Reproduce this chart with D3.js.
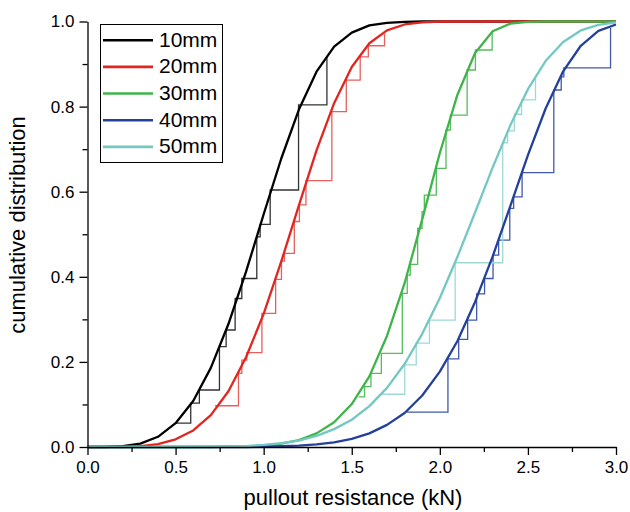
<!DOCTYPE html>
<html lang="en">
    <head>
        <meta charset="utf-8">
        <title>Cumulative distribution</title>
        <script type="text/javascript" src="https://d3js.org/d3.v7.min.js"></script>
        <style type="text/css">
            body { margin: 0; background: #fff; }
            svg text { font-family: "Liberation Sans", Arial, sans-serif; }
        </style>
    </head>
    <body>
        <script type="text/javascript">
            // fitted curves, sampled every 0.1 kN
            var xs = [0, 0.1, 0.2, 0.3, 0.4, 0.5, 0.6, 0.7, 0.8, 0.9, 1.0,
                      1.1, 1.2, 1.3, 1.4, 1.5, 1.6, 1.7, 1.8, 1.9, 2.0,
                      2.1, 2.2, 2.3, 2.4, 2.5, 2.6, 2.7, 2.8, 2.9, 3.0];
            var c10 = [0, 0, 0.002, 0.008, 0.024, 0.056, 0.108, 0.186, 0.289, 0.412, 0.547,
                       0.678, 0.793, 0.882, 0.941, 0.974, 0.991, 0.997, 0.999, 1, 1,
                       1, 1, 1, 1, 1, 1, 1, 1, 1, 1];
            var c20 = [0, 0, 0, 0.002, 0.007, 0.018, 0.039, 0.075, 0.131, 0.211, 0.313,
                       0.436, 0.568, 0.697, 0.808, 0.893, 0.949, 0.979, 0.993, 0.998, 1,
                       1, 1, 1, 1, 1, 1, 1, 1, 1, 1];
            var c30 = [0, 0, 0, 0, 0, 0, 0, 0, 0.001, 0.001, 0.004,
                       0.008, 0.016, 0.032, 0.058, 0.101, 0.166, 0.261, 0.385, 0.535, 0.691,
                       0.828, 0.926, 0.977, 0.995, 0.999, 1, 1, 1, 1, 1];
            var c40 = [0, 0, 0, 0, 0, 0, 0, 0, 0, 0, 0.001,
                       0.002, 0.003, 0.006, 0.011, 0.019, 0.032, 0.052, 0.080, 0.121, 0.177,
                       0.249, 0.341, 0.448, 0.566, 0.686, 0.795, 0.883, 0.943, 0.978, 0.993];
            var c50 = [0, 0, 0, 0, 0, 0, 0, 0.001, 0.001, 0.002, 0.005,
                       0.009, 0.015, 0.026, 0.042, 0.064, 0.096, 0.139, 0.195, 0.266, 0.350,
                       0.447, 0.551, 0.657, 0.756, 0.841, 0.907, 0.952, 0.979, 0.992, 0.998];

            // empirical steps (test results)
            var sx10 = [0.501, 0.586, 0.635, 0.749, 0.787, 0.838, 0.876, 0.961, 0.980, 1.037, 1.198, 1.359];
            var sf10 = [0.056, 0.103, 0.134, 0.236, 0.275, 0.349, 0.396, 0.494, 0.523, 0.604, 0.804, 0.917];
            var sx20 = [0.724, 0.857, 0.876, 0.904, 0.990, 1.068, 1.101, 1.118, 1.174, 1.203, 1.240, 1.387, 1.469, 1.548, 1.594, 1.686];
            var sf20 = [0.097, 0.173, 0.204, 0.222, 0.314, 0.394, 0.437, 0.455, 0.530, 0.569, 0.626, 0.788, 0.862, 0.917, 0.943, 0.972];
            var sx30 = [1.539, 1.573, 1.609, 1.668, 1.787, 1.815, 1.832, 1.874, 1.899, 1.912, 1.980, 2.035, 2.060, 2.155, 2.202, 2.297];
            var sf30 = [0.118, 0.142, 0.173, 0.220, 0.361, 0.404, 0.429, 0.514, 0.553, 0.592, 0.655, 0.745, 0.780, 0.886, 0.933, 0.976];
            var sx40 = [1.813, 2.046, 2.107, 2.158, 2.209, 2.254, 2.302, 2.334, 2.397, 2.419, 2.467, 2.647, 2.689, 2.704, 2.969];
            var sf40 = [0.082, 0.207, 0.253, 0.298, 0.360, 0.396, 0.451, 0.486, 0.561, 0.588, 0.645, 0.839, 0.870, 0.891, 0.985];
            var sx50 = [1.672, 1.801, 1.866, 1.941, 2.087, 2.357, 2.385, 2.423, 2.464, 2.543];
            var sf50 = [0.124, 0.193, 0.244, 0.298, 0.433, 0.715, 0.743, 0.782, 0.816, 0.871];

            var names = ["10mm", "20mm", "30mm", "40mm", "50mm"];
            var colors = ["#000000", "#e2261f", "#3fb44a", "#24409a", "#73c8c2"];
            var stepColors = ["#333333", "#e8605c", "#55bd5e", "#4259a8", "#9ed9d4"];
            var yMajor = [0, 0.2, 0.4, 0.6, 0.8, 1.0];
            var yMinor = [0.1, 0.3, 0.5, 0.7, 0.9];
            var xMajor = [0, 0.5, 1.0, 1.5, 2.0, 2.5, 3.0];
            var xMinor = [0.25, 0.75, 1.25, 1.75, 2.25, 2.75];

            var curves = [c10, c20, c30, c40, c50];
            var stepsX = [sx10, sx20, sx30, sx40, sx50];
            var stepsF = [sf10, sf20, sf30, sf40, sf50];

            var w = 630;
            var h = 512;

            var svg = d3.select("body")
                        .append("svg")
                        .attr("width", w)
                        .attr("height", h);

            var x = d3.scaleLinear().domain([0, 3]).range([87.5, 616]);
            var y = d3.scaleLinear().domain([0, 1]).range([447, 21.5]);

            // steps first, curves on top
            var stepLine = d3.line()
                .x(function(d) { return x(d[0]); })
                .y(function(d) { return y(d[1]); })
                .curve(d3.curveStepAfter);

            stepsX.forEach(function(sx, i) {
                var pts = sx.map(function(v, j) { return [v, stepsF[i][j]]; });
                svg.append("path")
                    .attr("d", stepLine(pts))
                    .attr("fill", "none")
                    .attr("stroke", stepColors[i])
                    .attr("stroke-width", 1.3);
            });

            var curveLine = d3.line()
                .x(function(d) { return x(d[0]); })
                .y(function(d) { return y(d[1]); });

            curves.forEach(function(c, i) {
                var pts = xs.map(function(v, j) { return [v, c[j]]; });
                svg.append("path")
                    .attr("d", curveLine(pts))
                    .attr("fill", "none")
                    .attr("stroke", colors[i])
                    .attr("stroke-width", 2.3)
                    .attr("stroke-linejoin", "round");
            });

            // axes
            var yAxis = d3.axisLeft(y).tickValues(yMajor).tickSize(8).tickSizeOuter(0)
                .tickPadding(5).tickFormat(d3.format(".1f"));
            var gy = svg.append("g").attr("transform", "translate(87.5,0)").call(yAxis);
            svg.append("g").attr("transform", "translate(87.5,0)")
                .call(d3.axisLeft(y).tickValues(yMinor).tickSize(5).tickFormat(""))
                .select(".domain").remove();

            var xAxis = d3.axisBottom(x).tickValues(xMajor).tickSize(8).tickSizeOuter(0)
                .tickPadding(6).tickFormat(d3.format(".1f"));
            var gx = svg.append("g").attr("transform", "translate(0,447)").call(xAxis);
            svg.append("g").attr("transform", "translate(0,447)")
                .call(d3.axisBottom(x).tickValues(xMinor).tickSize(5).tickFormat(""))
                .select(".domain").remove();

            svg.selectAll(".tick text")
                .attr("font-family", "Liberation Sans, Arial, sans-serif")
                .attr("font-size", "17px")
                .attr("fill", "#000");
            svg.selectAll(".domain, .tick line")
                .attr("stroke", "#000")
                .attr("stroke-width", 1.3);

            // axis titles
            svg.append("text")
                .attr("x", 353)
                .attr("y", 505)
                .attr("text-anchor", "middle")
                .attr("font-size", "22px")
                .text("pullout resistance (kN)");

            svg.append("text")
                .attr("transform", "translate(25,225) rotate(-90)")
                .attr("text-anchor", "middle")
                .attr("font-size", "22px")
                .text("cumulative distribution");

            // legend
            svg.append("rect")
                .attr("x", 100.5)
                .attr("y", 24.5)
                .attr("width", 122)
                .attr("height", 138)
                .attr("fill", "#fff")
                .attr("stroke", "#000")
                .attr("stroke-width", 1);

            var leg = svg.selectAll(".leg")
                .data(names)
                .enter()
                .append("g")
                .attr("transform", function(d, i) {
                    return "translate(0," + (46.7 + i * 26.67) + ")";
                });

            leg.append("line")
                .attr("x1", 103)
                .attr("x2", 153)
                .attr("y1", -6.5)
                .attr("y2", -6.5)
                .attr("stroke", function(d, i) { return colors[i]; })
                .attr("stroke-width", 2.6);

            leg.append("text")
                .attr("x", 159)
                .attr("y", 0)
                .attr("font-size", "21px")
                .text(function(d) { return d; });
        </script>
    </body>
</html>
